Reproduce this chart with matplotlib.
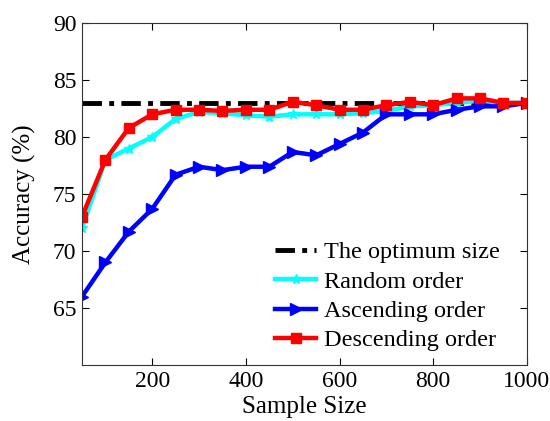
import matplotlib

matplotlib.use("Agg")
import matplotlib.pyplot as plt

# data
sample_size = [50, 100, 150, 200, 250, 300, 350, 400, 450, 500,
               550, 600, 650, 700, 750, 800, 850, 900, 950, 1000]
optimum = 83.0
random_order = [72.0, 78.0, 79.0, 80.0, 81.6, 82.2, 82.1, 81.9, 81.8, 82.0,
                82.0, 82.0, 82.1, 82.3, 82.7, 82.8, 83.0, 83.2, 83.0, 83.0]
ascending_order = [66.0, 69.0, 71.7, 73.7, 76.7, 77.4, 77.1, 77.4, 77.4, 78.7,
                   78.4, 79.4, 80.4, 82.0, 82.0, 82.0, 82.4, 82.7, 82.7, 83.0]
descending_order = [73.0, 78.0, 80.8, 82.0, 82.4, 82.4, 82.3, 82.4, 82.4, 83.1,
                    82.8, 82.4, 82.4, 82.8, 83.1, 82.8, 83.4, 83.4, 83.0, 83.0]
x_ticks = [200, 400, 600, 800, 1000]
y_ticks = [65, 70, 75, 80, 85, 90]

plt.rcParams["font.family"] = ["Liberation Serif", "DejaVu Serif"]

fig = plt.figure(figsize=(5.5, 4.21), dpi=100)
ax = fig.add_axes([0.149, 0.133, 0.809, 0.812])

ax.plot([sample_size[0], sample_size[-1]], [optimum, optimum], color="black",
        linestyle=(0, (4, 1.5, 1, 1.5)), linewidth=3.5, label="The optimum size")
ax.plot(sample_size, random_order, color="cyan", marker="*", markersize=7,
        linewidth=3.2, label="Random order")
ax.plot(sample_size, ascending_order, color="blue", marker=">", markersize=8,
        linewidth=3.2, label="Ascending order")
ax.plot(sample_size, descending_order, color="red", marker="s", markersize=7,
        linewidth=3.2, label="Descending order")

ax.set_xlim(50, 1000)
ax.set_ylim(60, 90)
ax.set_xticks(x_ticks)
ax.set_yticks(y_ticks)
ax.tick_params(direction="in", top=True, right=True, length=5, width=0.8,
               labelsize=17, pad=4)
for s in ax.spines.values():
    s.set_linewidth(0.8)
    s.set_color("#333333")

ax.set_xlabel("Sample Size", fontsize=18, labelpad=3)
ax.set_ylabel("Accuracy (%)", fontsize=18, labelpad=12)

ax.legend(loc="upper left", bbox_to_anchor=(0.412, 0.39), frameon=False,
          fontsize=17.5, handlelength=1.7, handletextpad=0.3, labelspacing=0.3,
          borderaxespad=0)

fig.savefig("out.png", dpi=100)
